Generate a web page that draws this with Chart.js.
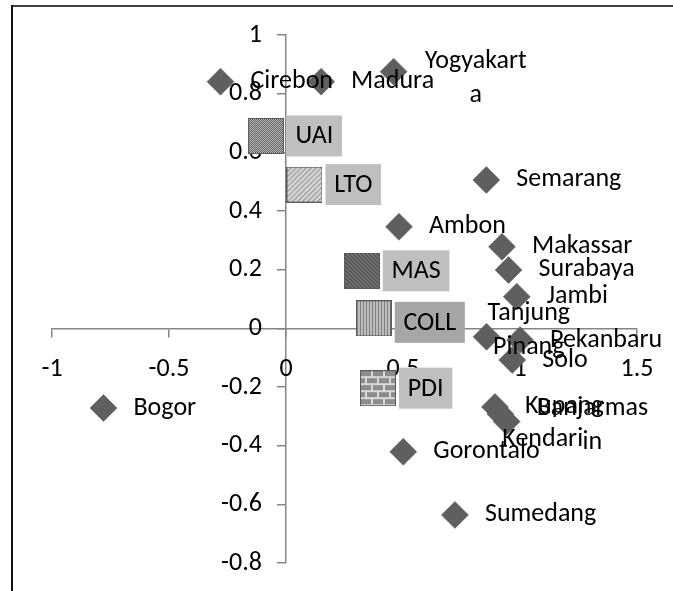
<!DOCTYPE html>
<html><head><meta charset="utf-8">
<script src="https://cdn.jsdelivr.net/npm/chart.js@4.4.1/dist/chart.umd.min.js"></script>
<style>
html,body{margin:0;padding:0;background:#fff;overflow:hidden}
canvas{display:block}
</style></head><body>
<canvas id="c" width="673" height="591"></canvas>
<script>
// ---- data ----
const cities = ['Cirebon','Madura','Yogyakarta','Semarang','Ambon','Makassar','Surabaya','Jambi','Tanjung Pinang','Pekanbaru','Solo','Kupang','Kendari','Banjarmasin','Gorontalo','Sumedang','Bogor'];
const cityX  = [-0.28, 0.15, 0.46, 0.856, 0.483, 0.923, 0.951, 0.986, 0.857, 1.00, 0.967, 0.893, 0.916, 0.943, 0.501, 0.722, -0.780];
const cityY  = [0.841, 0.841, 0.875, 0.506, 0.346, 0.278, 0.199, 0.108, -0.029, -0.040, -0.108, -0.268, -0.292, -0.318, -0.421, -0.636, -0.272];
const variables = ['UAI','LTO','MAS','COLL','PDI'];
const varX = [-0.086, 0.079, 0.324, 0.375, 0.393];
const varY = [0.656, 0.490, 0.196, 0.034, -0.204];
const xTickValues = [-1, -0.5, 0, 0.5, 1, 1.5];
const xTickLabels = ['-1', '-0.5', '0', '0.5', '1', '1.5'];
const yTickValues = [-0.8, -0.6, -0.4, -0.2, 0, 0.2, 0.4, 0.6, 0.8, 1];
const yTickLabels = ['-0.8', '-0.6', '-0.4', '-0.2', '0', '0.2', '0.4', '0.6', '0.8', '1'];

// label wrapping and manual placement (as in the original chart)
const wrapped = { 'Yogyakarta': ['Yogyakart', 'a'], 'Tanjung Pinang': ['Tanjung', 'Pinang'], 'Banjarmasin': ['Banjarmas', 'in'] };
const labelShift = { 'Yogyakarta': [31, 7], 'Tanjung Pinang': [1, -6], 'Banjarmasin': [30, 4], 'Kendari': [2, 26] };

const FONT = 'Carlito, Calibri, Lato, sans-serif';
const FS = 26;
const varBoxColor = { 'COLL': '#a6a6a6' };
// offsets of the tick-label rows from the axis lines, in pixels
const X_LABEL_GAP = 26, Y_LABEL_GAP = 24;
const PX_PER_X = 233.84, PX_PER_Y = 293.33;

// ---- pattern squares ----
function makeSquare(kind) {
  const w = 36, h = 36;
  const cv = document.createElement('canvas'); cv.width = w; cv.height = h;
  const g = cv.getContext('2d');
  if (kind === 'UAI') {
    for (let i = 0; i < w; i++) for (let j = 0; j < h; j++) {
      g.fillStyle = ((i + j) % 2) ? '#5e5e5e' : '#bdbdbd';
      g.fillRect(i, j, 1, 1);
    }
  } else if (kind === 'LTO') {
    g.fillStyle = '#dedede'; g.fillRect(0, 0, w, h);
    g.strokeStyle = '#8a8a8a'; g.lineWidth = 1.2;
    for (let k = -40; k < 80; k += 5) { g.beginPath(); g.moveTo(k, h); g.lineTo(k + h, 0); g.stroke(); }
  } else if (kind === 'MAS') {
    g.fillStyle = '#909090'; g.fillRect(0, 0, w, h);
    g.strokeStyle = '#555555'; g.lineWidth = 2;
    for (let k = -40; k < 80; k += 4) { g.beginPath(); g.moveTo(k, 0); g.lineTo(k + h, h); g.stroke(); }
  } else if (kind === 'COLL') {
    g.fillStyle = '#d6d6d6'; g.fillRect(0, 0, w, h);
    g.fillStyle = '#6e6e6e';
    for (let k = 1; k < w; k += 3) g.fillRect(k, 0, 1.3, h);
  } else if (kind === 'PDI') {
    g.fillStyle = '#d9d9d9'; g.fillRect(0, 0, w, h);
    g.fillStyle = '#8c8c8c';
    let row = 0;
    for (let y = 1; y < h; y += 7, row++) {
      const off = (row % 2) ? -6 : 0;
      for (let x = off + 1; x < w; x += 12) g.fillRect(x, y, 10, 5);
    }
  }
  g.strokeStyle = '#5a5a5a'; g.lineWidth = 1;
  g.strokeRect(0.5, 0.5, w - 1, h - 1);
  return cv;
}
const squareImgs = variables.map(makeSquare);

// ---- outer frame (top and left edges only, as in the cropped original) ----
const framePlugin = {
  id: 'frame',
  beforeDraw(chart) {
    const ctx = chart.ctx;
    ctx.save();
    ctx.fillStyle = '#404040';
    ctx.fillRect(11, 5, chart.width - 11, 2);
    ctx.fillStyle = '#111111';
    ctx.fillRect(11, 5, 2, chart.height - 5);
    ctx.restore();
  }
};

// ---- labels plugin ----
const labelPlugin = {
  id: 'pointLabels',
  afterDatasetsDraw(chart) {
    const ctx = chart.ctx;
    ctx.save();
    ctx.font = FS + 'px ' + FONT;
    ctx.textBaseline = 'middle';
    ctx.fillStyle = '#000';
    chart.getDatasetMeta(0).data.forEach((pt, i) => {
      const name = cities[i];
      const lines = wrapped[name] || [name];
      const sh = labelShift[name] || [30, 0];
      const lh = 34;
      const bw = Math.max(...lines.map(l => ctx.measureText(l).width));
      const left = pt.x + sh[0];
      const cy = pt.y + sh[1];
      ctx.textAlign = 'center';
      lines.forEach((l, k) => {
        ctx.fillText(l, left + bw / 2, cy + (k - (lines.length - 1) / 2) * lh);
      });
    });
    chart.getDatasetMeta(1).data.forEach((pt, i) => {
      const name = variables[i];
      const tw = ctx.measureText(name).width;
      const pad = 8.7, bh = 41;
      const left = pt.x + 21;
      const cy = pt.y + (name === 'COLL' ? 4 : 0);
      ctx.fillStyle = varBoxColor[name] || '#bfbfbf';
      ctx.fillRect(left, cy - bh / 2, tw + 2 * pad, bh);
      ctx.fillStyle = '#000';
      ctx.textAlign = 'left';
      ctx.fillText(name, left + pad, cy + 1);
    });
    ctx.restore();
  }
};

const axisGrey = '#868686';
new Chart(document.getElementById('c'), {
  type: 'scatter',
  data: {
    datasets: [
      {
        label: 'Kota',
        data: cities.map((c, i) => ({ x: cityX[i], y: cityY[i] })),
        pointStyle: 'rectRot',
        pointRadius: 13.5,
        backgroundColor: '#5f5f5f',
        borderColor: '#5f5f5f',
        borderWidth: 0.5
      },
      {
        label: 'Variabel',
        data: variables.map((v, i) => ({ x: varX[i], y: varY[i] })),
        pointStyle: squareImgs,
        pointRadius: 18
      }
    ]
  },
  options: {
    responsive: false,
    animation: false,
    events: [],
    layout: { padding: { left: 52, right: 36, top: 35, bottom: 28 } },
    plugins: { legend: { display: false }, tooltip: { enabled: false } },
    scales: {
      x: {
        type: 'linear', min: -1, max: 1.5, position: { y: 0 },
        afterBuildTicks: s => { s.ticks = xTickValues.map(v => ({ value: v })); },
        ticks: { display: false },
        grid: { drawOnChartArea: false, drawTicks: true, tickLength: 8, color: axisGrey, lineWidth: 1.5 },
        border: { display: true, color: axisGrey, width: 1.5 }
      },
      y: {
        type: 'linear', min: -0.8, max: 1, position: { x: 0 },
        afterBuildTicks: s => { s.ticks = yTickValues.map(v => ({ value: v })); },
        ticks: { display: false },
        grid: { drawOnChartArea: false, drawTicks: true, tickLength: 8, color: axisGrey, lineWidth: 1.5 },
        border: { display: true, color: axisGrey, width: 1.5 }
      },
      x2: {
        type: 'linear', axis: 'x', min: -1, max: 1.5, position: { y: -X_LABEL_GAP / PX_PER_Y }, z: 1,
        afterBuildTicks: s => { s.ticks = xTickValues.map(v => ({ value: v })); },
        ticks: { display: true, color: '#000', font: { family: FONT, size: FS }, padding: 0, maxRotation: 0, autoSkip: false,
                 callback: (v, i) => xTickLabels[i] },
        grid: { display: false, drawTicks: false },
        border: { display: false }
      },
      y2: {
        type: 'linear', axis: 'y', min: -0.8, max: 1, position: { x: -Y_LABEL_GAP / PX_PER_X }, z: 1,
        afterBuildTicks: s => { s.ticks = yTickValues.map(v => ({ value: v })); },
        ticks: { display: true, color: '#000', font: { family: FONT, size: FS }, padding: 0, autoSkip: false,
                 callback: (v, i) => yTickLabels[i] },
        grid: { display: false, drawTicks: false },
        border: { display: false }
      }
    }
  },
  plugins: [framePlugin, labelPlugin]
});
</script>
</body></html>
